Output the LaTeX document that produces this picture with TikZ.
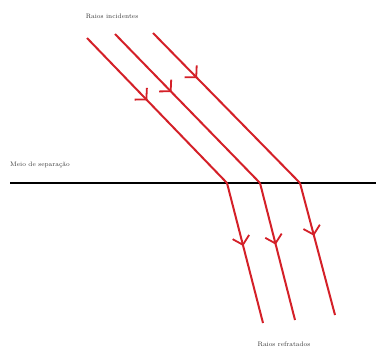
\documentclass[tikz,border=0pt]{standalone}
\usetikzlibrary{arrows.meta,decorations.markings}
\definecolor{rayred}{RGB}{212,32,40}
\tikzset{
  ray/.style={draw=rayred, line width=2pt},
  tipat/.style={postaction={decorate,decoration={markings,
     mark=at position #1 with {\arrow[rayred,line width=1.8pt]{Straight Barb[length=8pt,width=17pt]}}}}},
  lbl/.style={font=\fontsize{6.5}{7.5}\selectfont, text=black!80, inner sep=0pt}
}
\begin{document}
\begin{tikzpicture}[x=1pt,y=-1pt]
\useasboundingbox (0,0) rectangle (376,354);
% labels
\node[lbl] (inc) at (112,16) {Raios incidentes};
\node[lbl, anchor=west] (meio) at (10,165) {Meio de separação};
\node[lbl] (ref) at (284,344) {Raios refratados};
% interface
\coordinate (L) at (10,183);
\coordinate (R) at (376,183);
\draw[line width=2.4pt, black] (L) -- (R);
% rays
\coordinate (a1) at (87,38);  \coordinate (b1) at (227,183); \coordinate (c1) at (263,323);
\coordinate (a2) at (115,34); \coordinate (b2) at (260,183); \coordinate (c2) at (295,320);
\coordinate (a3) at (153,33); \coordinate (b3) at (300,183); \coordinate (c3) at (335,315);
\path[ray, tipat=0.43] (a1) -- (b1);
\path[ray, tipat=0.39] (a2) -- (b2);
\path[ray, tipat=0.30] (a3) -- (b3);
\path[ray, tipat=0.45] (b1) -- (c1);
\path[ray, tipat=0.45] (b2) -- (c2);
\path[ray, tipat=0.40] (b3) -- (c3);
\end{tikzpicture}
\end{document}
